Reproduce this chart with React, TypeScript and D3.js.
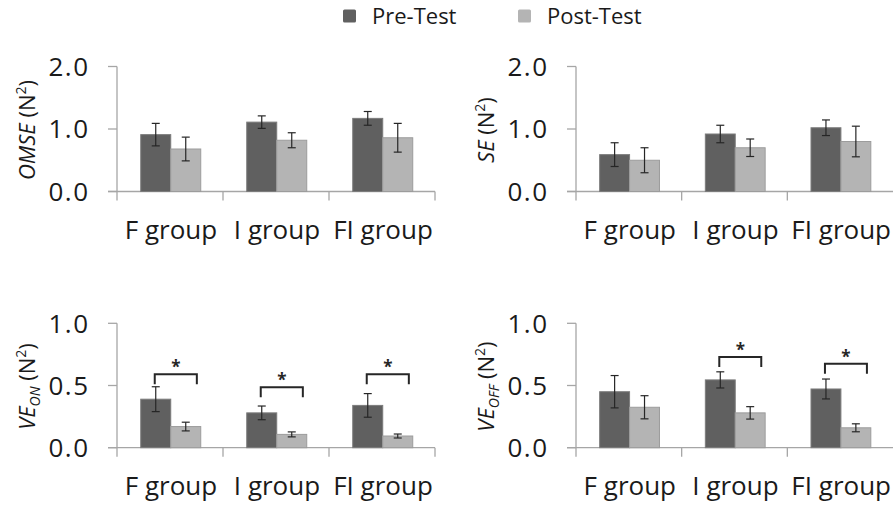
import * as d3 from "d3";
import { useEffect, useRef } from "react";

const groups = ["F group", "I group", "FI group"];
const series = ["Pre-Test", "Post-Test"];

const omsePre = [0.91, 1.11, 1.17];
const omsePreErr = [0.18, 0.1, 0.11];
const omsePost = [0.68, 0.82, 0.86];
const omsePostErr = [0.19, 0.12, 0.23];

const sePre = [0.59, 0.92, 1.02];
const sePreErr = [0.19, 0.14, 0.125];
const sePost = [0.5, 0.7, 0.8];
const sePostErr = [0.2, 0.14, 0.245];

const veOnPre = [0.39, 0.28, 0.34];
const veOnPreErr = [0.1, 0.055, 0.095];
const veOnPost = [0.17, 0.107, 0.094];
const veOnPostErr = [0.035, 0.02, 0.016];
const veOnSig = [0.59, 0.485, 0.59];

const veOffPre = [0.45, 0.545, 0.472];
const veOffPreErr = [0.13, 0.065, 0.08];
const veOffPost = [0.325, 0.28, 0.16];
const veOffPostErr = [0.093, 0.05, 0.032];
const veOffSig = [null, 0.73, 0.675];

const topTicks = [0, 1, 2];
const bottomTicks = [0, 0.5, 1];

const colors = ["#606060", "#b4b4b4"];
const strokes = ["#7c7c7c", "#9c9c9c"];
const font = "'Open Sans', sans-serif";

type Panel = {
  left: number;
  right: number;
  top: number;
  bottom: number;
  max: number;
  ticks: number[];
  title: string;
  sub: string | null;
  pre: number[];
  preErr: number[];
  post: number[];
  postErr: number[];
  sig: (number | null)[];
};

const panels: Panel[] = [
  { left: 117, right: 435, top: 66.5, bottom: 191.5, max: 2, ticks: topTicks, title: "OMSE", sub: null,
    pre: omsePre, preErr: omsePreErr, post: omsePost, postErr: omsePostErr, sig: [null, null, null] },
  { left: 576, right: 893, top: 66.5, bottom: 191.5, max: 2, ticks: topTicks, title: "SE", sub: null,
    pre: sePre, preErr: sePreErr, post: sePost, postErr: sePostErr, sig: [null, null, null] },
  { left: 117, right: 435, top: 323.3, bottom: 447.7, max: 1, ticks: bottomTicks, title: "VE", sub: "ON",
    pre: veOnPre, preErr: veOnPreErr, post: veOnPost, postErr: veOnPostErr, sig: veOnSig },
  { left: 576, right: 893, top: 323.3, bottom: 447.7, max: 1, ticks: bottomTicks, title: "VE", sub: "OFF",
    pre: veOffPre, preErr: veOffPreErr, post: veOffPost, postErr: veOffPostErr, sig: veOffSig },
];

const App = () => {
  const ref = useRef<SVGSVGElement | null>(null);

  useEffect(() => {
    document.body.style.margin = "0";
    const svg = d3.select(ref.current);
    svg.selectAll("*").remove();

    // legend
    const legend = svg.append("g");
    const legendX = [343, 518];
    series.forEach((s, i) => {
      legend
        .append("rect")
        .attr("x", legendX[i])
        .attr("y", 9.5)
        .attr("width", 13)
        .attr("height", 13)
        .attr("rx", 1.5)
        .attr("fill", colors[i]);
      legend
        .append("text")
        .attr("x", legendX[i] + 29)
        .attr("y", 24)
        .attr("font-family", font)
        .attr("font-size", 22)
        .attr("fill", "#1a1a1a")
        .text(s);
    });

    panels.forEach((p) => {
      const g = svg.append("g");
      const x0 = d3.scaleBand<string>().domain(groups).range([p.left, p.right]);
      const bw = x0.bandwidth();
      const x1 = d3
        .scaleBand<string>()
        .domain(series)
        .range([bw * 0.224, bw * 0.79]);
      const y = d3.scaleLinear().domain([0, p.max]).range([p.bottom, p.top]);

      // axes
      g.append("line")
        .attr("x1", p.left)
        .attr("x2", p.left)
        .attr("y1", y(p.max))
        .attr("y2", p.bottom + 9)
        .attr("stroke", "#a6a6a6")
        .attr("stroke-width", 1.3);
      g.append("line")
        .attr("x1", p.left - 9)
        .attr("x2", p.right)
        .attr("y1", p.bottom)
        .attr("y2", p.bottom)
        .attr("stroke", "#a6a6a6")
        .attr("stroke-width", 1.3);
      p.ticks.forEach((t) => {
        g.append("line")
          .attr("x1", p.left - 9)
          .attr("x2", p.left)
          .attr("y1", y(t))
          .attr("y2", y(t))
          .attr("stroke", "#a6a6a6")
          .attr("stroke-width", 1.3);
        g.append("text")
          .attr("x", p.left - 27.5)
          .attr("y", y(t))
          .attr("dy", "0.36em")
          .attr("text-anchor", "end")
          .attr("font-family", font)
          .attr("font-size", 26)
          .attr("letter-spacing", 1.5)
          .attr("fill", "#1a1a1a")
          .text(d3.format(".1f")(t));
      });
      groups.forEach((c, i) => {
        const bx = (x0(c) as number) + bw;
        if (i < groups.length - 1 || bx < 890) {
          g.append("line")
            .attr("x1", bx)
            .attr("x2", bx)
            .attr("y1", p.bottom)
            .attr("y2", p.bottom + 9)
            .attr("stroke", "#a6a6a6")
            .attr("stroke-width", 1.3);
        }
        g.append("text")
          .attr("x", (x0(c) as number) + bw / 2 + 1)
          .attr("y", p.bottom + 47)
          .attr("text-anchor", "middle")
          .attr("font-family", font)
          .attr("font-size", 26)
          .attr("fill", "#1a1a1a")
          .text(c);
      });

      // y title
      const title = g
        .append("text")
        .attr("transform", `translate(${p.left - 82},${(p.top + p.bottom) / 2 + 1}) rotate(-90)`)
        .attr("text-anchor", "middle")
        .attr("font-family", font)
        .attr("font-size", 22)
        .attr("fill", "#1a1a1a");
      title.append("tspan").attr("font-style", "italic").text(p.title);
      if (p.sub) {
        title
          .append("tspan")
          .attr("font-style", "italic")
          .attr("font-size", 14)
          .attr("dy", 5)
          .text(p.sub);
        title.append("tspan").attr("dy", -5).text(" (N");
      } else {
        title.append("tspan").text(" (N");
      }
      title.append("tspan").attr("font-size", 14).attr("dy", -9).text("2");
      title.append("tspan").attr("dy", 9).text(")");

      // bars
      groups.forEach((c, i) => {
        const vals = [p.pre[i], p.post[i]];
        const errs = [p.preErr[i], p.postErr[i]];
        series.forEach((s, j) => {
          const bx = (x0(c) as number) + (x1(s) as number);
          const w = x1.bandwidth();
          g.append("rect")
            .attr("x", bx)
            .attr("y", y(vals[j]))
            .attr("width", w)
            .attr("height", p.bottom - y(vals[j]))
            .attr("fill", colors[j])
            .attr("stroke", strokes[j])
            .attr("stroke-width", 1);
          const cx = bx + w / 2;
          const e = g.append("g").attr("stroke", "#262626").attr("stroke-width", 1.2);
          e.append("line")
            .attr("x1", cx)
            .attr("x2", cx)
            .attr("y1", y(vals[j] - errs[j]))
            .attr("y2", y(vals[j] + errs[j]));
          [vals[j] - errs[j], vals[j] + errs[j]].forEach((v) => {
            e.append("line")
              .attr("x1", cx - 4)
              .attr("x2", cx + 4)
              .attr("y1", y(v))
              .attr("y2", y(v));
          });
        });

        // significance bracket
        const sv = p.sig[i];
        if (sv != null) {
          const w = x1.bandwidth();
          const lx = (x0(c) as number) + (x1("Pre-Test") as number) + w / 2 - 1;
          const rx = (x0(c) as number) + (x1("Post-Test") as number) + w * 0.87;
          const by = y(sv);
          g.append("path")
            .attr("d", `M${lx},${by + 10}V${by}H${rx}V${by + 10}`)
            .attr("fill", "none")
            .attr("stroke", "#262626")
            .attr("stroke-width", 2);
          g.append("text")
            .attr("x", (lx + rx) / 2)
            .attr("y", by - 1)
            .attr("text-anchor", "middle")
            .attr("font-family", font)
            .attr("font-weight", "bold")
            .attr("font-size", 17)
            .attr("fill", "#262626")
            .text("*");
        }
      });
    });
  }, []);

  return <svg ref={ref} width={894} height={508} style={{ display: "block", background: "#fff" }}></svg>;
};

export default App;
